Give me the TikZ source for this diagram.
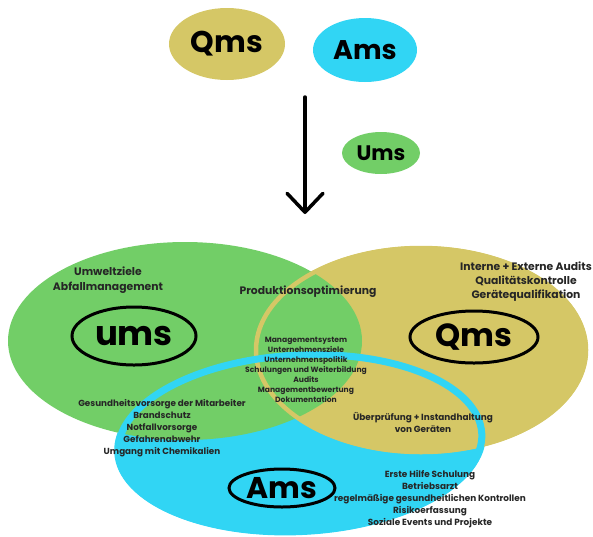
\documentclass[tikz,border=0pt]{standalone}
\usepackage{fontspec}
\setmainfont{Poppins}
\newfontfamily\txtfont{Poppins}
\newfontfamily\handfont{Poppins}
\usetikzlibrary{shapes.geometric,arrows.meta}
\definecolor{qgold}{HTML}{D5C766}
\definecolor{ugreen}{HTML}{72CE67}
\definecolor{acyan}{HTML}{31D5F4}
\definecolor{ink}{HTML}{262626}
\tikzset{
  topblob/.style={ellipse, inner sep=0pt, text=black, font=\handfont\bfseries},
  ringlabel/.style={ellipse, draw=black, line width=3pt, inner sep=0pt, text=black, font=\handfont\bfseries},
  info/.style={align=center, text=ink, inner sep=0pt},
}
\begin{document}
\begin{tikzpicture}[x=1pt,y=-1pt]
\useasboundingbox (0,0) rectangle (593,536);
% top legend
\node[topblob, fill=qgold, minimum width=116pt, minimum height=72pt, font=\handfont\bfseries\fontsize{30}{32}\selectfont] (qtop) at (227,44) {Qms};
\node[topblob, fill=acyan, minimum width=104pt, minimum height=64pt, font=\handfont\bfseries\fontsize{27}{29}\selectfont] (atop) at (365,50) {Ams};
\node[topblob, fill=ugreen, minimum width=78pt, minimum height=42pt, font=\handfont\bfseries\fontsize{21}{23}\selectfont] (utop) at (381,153) {Ums};
\coordinate (arrA) at (305,97);
\coordinate (arrB) at (305,214);
\draw[line width=3.5pt, line cap=round, -{Straight Barb[length=19pt,width=36pt,line cap=round,line join=round]}] (arrA) -- (arrB);
% Venn
\fill[acyan, rotate around={3:(300,443)}] (300,443) ellipse [x radius=186pt, y radius=92pt];
\fill[qgold] (421,350) ellipse [x radius=167pt, y radius=104pt];
\fill[ugreen] (185,341) ellipse [x radius=177pt, y radius=99pt];
\draw[qgold, line width=4.5pt] (421,350) ellipse [x radius=165pt, y radius=102pt];
\draw[acyan, line width=7pt, rotate around={3:(300,443)}] (300,443) ellipse [x radius=182pt, y radius=88pt];
% ring labels
\node[ringlabel, minimum width=124pt, minimum height=58pt, font=\handfont\bfseries\fontsize{34}{36}\selectfont] (ums) at (134,336) {ums};
\node[ringlabel, minimum width=128pt, minimum height=52pt, font=\handfont\bfseries\fontsize{32}{34}\selectfont] (qms) at (474,337) {Qms};
\node[ringlabel, minimum width=106pt, minimum height=38pt, font=\handfont\bfseries\fontsize{30}{32}\selectfont] (ams) at (282,488) {Ams};
% texts
\node[info, font=\txtfont\bfseries\fontsize{10.8}{15}\selectfont] (tumw) at (108,280) {Umweltziele\\Abfallmanagement};
\node[info, font=\txtfont\bfseries\fontsize{10.8}{15}\selectfont] (tprod) at (308,292) {Produktionsoptimierung};
\node[info, font=\txtfont\bfseries\fontsize{7.6}{10}\selectfont] (tmid) at (306,370) {Managementsystem\\Unternehmensziele\\Unternehmenspolitik\\Schulungen und Weiterbildung\\Audits\\Managementbewertung\\Dokumentation};
\node[info, font=\txtfont\bfseries\fontsize{10.8}{14}\selectfont] (tqms) at (526,282) {Interne + Externe Audits\\Qualitätskontrolle\\Gerätequalifikation};
\node[info, font=\txtfont\bfseries\fontsize{8.9}{12}\selectfont] (tger) at (423,422) {Überprüfung + Instandhaltung\\von Geräten};
\node[info, font=\txtfont\bfseries\fontsize{8.8}{12}\selectfont] (tgesund) at (162,428) {Gesundheitsvorsorge der Mitarbeiter\\Brandschutz\\Notfallvorsorge\\Gefahrenabwehr\\Umgang mit Chemikalien};
\node[info, font=\txtfont\bfseries\fontsize{8.9}{12}\selectfont] (tams) at (430,499) {Erste Hilfe Schulung\\Betriebsarzt\\regelmäßige gesundheitlichen Kontrollen\\Risikoerfassung\\Soziale Events und Projekte};
\end{tikzpicture}
\end{document}
